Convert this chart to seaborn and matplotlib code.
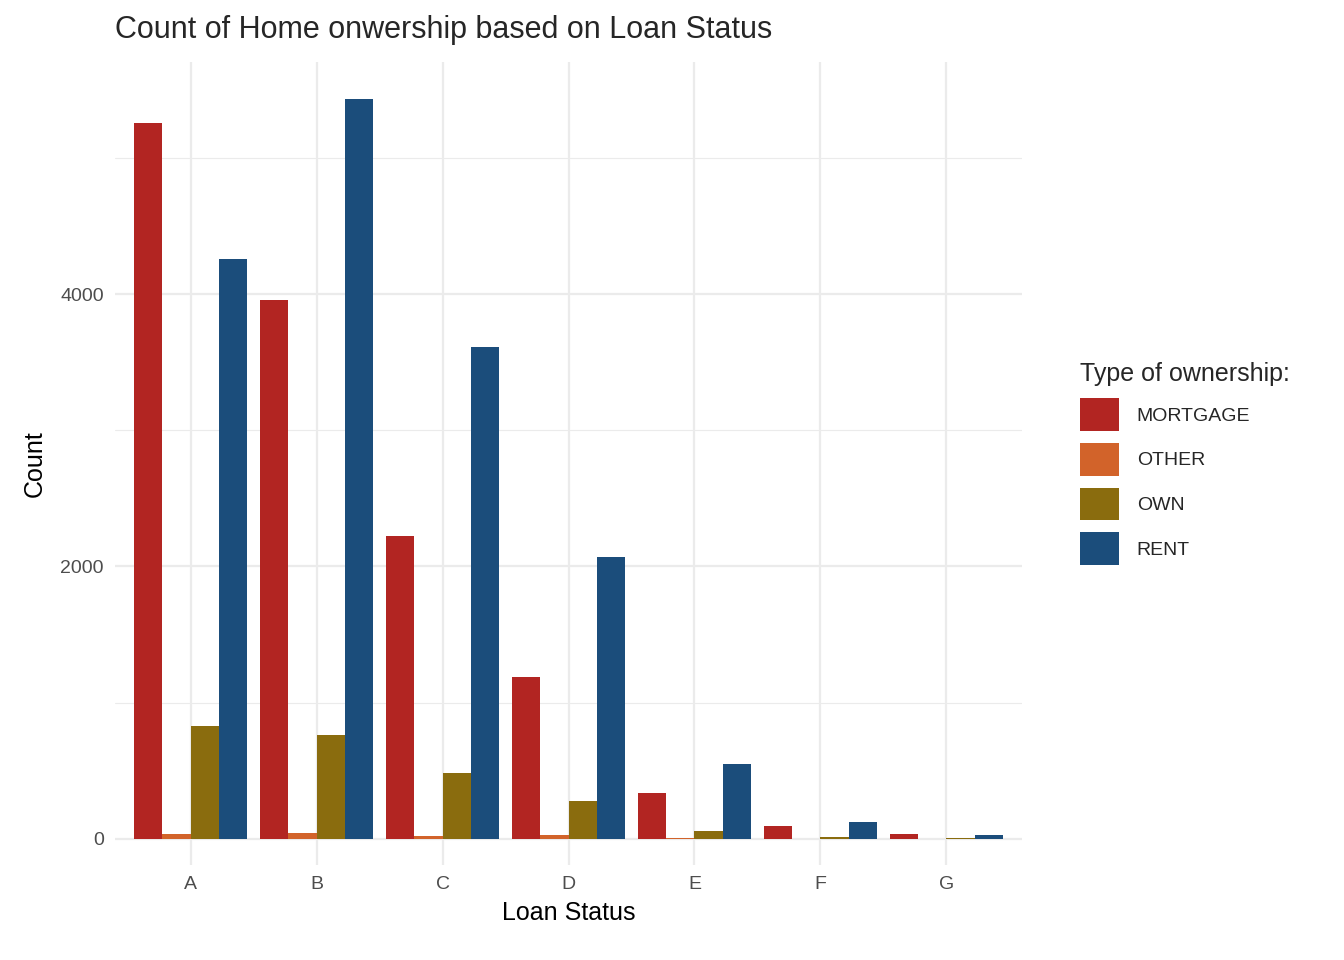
import matplotlib
matplotlib.use("Agg")
import matplotlib.pyplot as plt
import seaborn as sns
import pandas as pd
from matplotlib.ticker import MultipleLocator

grades = ["A", "B", "C", "D", "E", "F", "G"]
mortgage = [5255, 3956, 2224, 1189, 338, 95, 37]
other = [37, 44, 22, 29, 5, 1, 0]
own = [829, 763, 484, 279, 59, 15, 7]
rent = [4257, 5431, 3611, 2070, 550, 125, 30]
types = ["MORTGAGE", "OTHER", "OWN", "RENT"]
colors = ["#B22522", "#D2632A", "#8A6C0E", "#1B4D7B"]

rows = []
for t, vals in zip(types, [mortgage, other, own, rent]):
    for g, v in zip(grades, vals):
        rows.append({"grade": g, "type": t, "count": v})
df = pd.DataFrame(rows)

sns.set_style("white")
plt.rcParams['font.family'] = ['Liberation Sans', 'DejaVu Sans']
fig = plt.figure(figsize=(13.44, 9.6), dpi=100)
ax = fig.add_axes([115/1344, 95/960, (1022-115)/1344, (865-62)/960])
sns.barplot(data=df, x="grade", y="count", hue="type", hue_order=types,
            palette=colors, width=0.9, saturation=1, ax=ax, errorbar=None,
            linewidth=0, edgecolor="none")
ax.set_ylim(-191, 5703)
ax.set_xlim(-0.6, 6.6)
ax.yaxis.set_major_locator(MultipleLocator(2000))
ax.yaxis.set_minor_locator(MultipleLocator(1000))
ax.grid(True, which="major", color="#EBEBEB", linewidth=1.6)
ax.grid(True, which="minor", axis="y", color="#EBEBEB", linewidth=0.8)
ax.set_axisbelow(True)
for s in ax.spines.values():
    s.set_visible(False)
ax.tick_params(length=0, labelsize=14, colors="#4D4D4D", pad=8)
ax.set_xlabel("Loan Status", fontsize=18, color="black", labelpad=6)
ax.set_ylabel("Count", fontsize=18, color="black", labelpad=10)
fig.text(115/1344, 1-30/960, "Count of Home onwership based on Loan Status",
         fontsize=22, va="center", ha="left")
ax.legend(title="Type of ownership:", loc="center left", bbox_to_anchor=(1.045, 0.5),
          frameon=False, fontsize=14, title_fontsize=18, handlelength=2.0,
          handleheight=2.2, labelspacing=0.62, handletextpad=0.9, alignment="left")
fig.savefig("out.png", dpi=100)
